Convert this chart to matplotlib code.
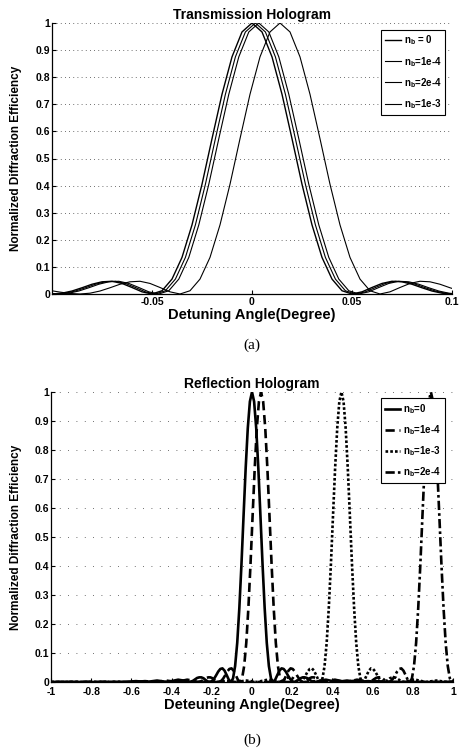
import numpy as np
import matplotlib
matplotlib.use("Agg")
import matplotlib.pyplot as plt

plt.rcParams['font.family'] = ['Liberation Sans', 'DejaVu Sans']
plt.rcParams['font.weight'] = 'bold'
plt.rcParams['mathtext.fontset'] = 'custom'
plt.rcParams['mathtext.bf'] = 'Liberation Sans:bold'
plt.rcParams['mathtext.rm'] = 'Liberation Sans:bold'
plt.rcParams['mathtext.default'] = 'bf'

# normalised efficiency profile, one side of the peak,
# u = detuning from the peak in units of the first-null detuning
u_side = [0.0, 0.1, 0.2, 0.3, 0.4, 0.5, 0.6, 0.7, 0.8, 0.9, 1.0,
          1.1, 1.2, 1.3, 1.4, 1.5, 1.6, 1.7, 1.8, 1.9, 2.0,
          2.1, 2.2, 2.3, 2.4, 2.5, 2.6, 2.7, 2.8, 2.9, 3.0,
          3.25, 3.5, 3.75, 4.0, 4.5, 5.0, 5.5, 6.0, 20.0]
eta_side = [1.0, 0.967, 0.875, 0.737, 0.573, 0.405, 0.255, 0.135, 0.055, 0.012, 0.0,
            0.008, 0.024, 0.039, 0.047, 0.045, 0.036, 0.023, 0.011, 0.003, 0.0,
            0.002, 0.007, 0.013, 0.016, 0.016, 0.014, 0.009, 0.004, 0.001, 0.0,
            0.005, 0.008, 0.004, 0.0, 0.005, 0.0, 0.003, 0.0, 0.0]

# (a) transmission hologram
trans_labels = ['$n_b$ = 0', '$n_b$=1e-4', '$n_b$=2e-4', '$n_b$=1e-3']
trans_peak = [0.0, 0.0017, 0.0034, 0.014]      # degree
trans_null = 0.05                              # first null, degree
trans_xticks = [-0.05, 0, 0.05, 0.1]
trans_xticklabels = ['-0.05', '0', '0.05', '0.1']

# (b) reflection hologram
refl_labels = ['$n_b$=0', '$n_b$=1e-4', '$n_b$=1e-3', '$n_b$=2e-4']
refl_peak = [0.0, 0.045, 0.445, 0.89]          # degree
refl_null = 0.105
refl_xticks = [-1, -0.8, -0.6, -0.4, -0.2, 0, 0.2, 0.4, 0.6, 0.8, 1]
refl_xticklabels = ['-1', '-0.8', '-0.6', '-0.4', '-0.2', '0', '0.2', '0.4', '0.6', '0.8', '1']

yticks = [0, 0.1, 0.2, 0.3, 0.4, 0.5, 0.6, 0.7, 0.8, 0.9, 1]
yticklabels = ['0', '0.1', '0.2', '0.3', '0.4', '0.5', '0.6', '0.7', '0.8', '0.9', '1']

u_full = np.r_[-np.array(u_side[::-1]), np.array(u_side[1:])]
eta_full = np.r_[np.array(eta_side[::-1]), np.array(eta_side[1:])]


def style_axes(ax, xlim, xticks, xticklabels, title, xlabel, grid_dash, xpad):
    ax.set_xlim(xlim)
    ax.set_ylim(0, 1)
    ax.set_xticks(xticks)
    ax.set_xticklabels(xticklabels)
    ax.set_yticks(yticks)
    ax.set_yticklabels(yticklabels)
    ax.tick_params(direction='in', length=3, width=0.8, labelsize=7.5, pad=1.5)
    ax.tick_params(axis='x', pad=xpad)
    for s in ['top', 'right']:
        ax.spines[s].set_visible(False)
    for s in ['left', 'bottom']:
        ax.spines[s].set_linewidth(0.9)
    for yv in yticks[1:]:
        ax.axhline(yv, color='0.25', lw=0.6, linestyle=grid_dash, zorder=0)
    ax.set_title(title, fontsize=10, fontweight='bold', pad=3)
    ax.set_xlabel(xlabel, fontsize=10.5, fontweight='bold', labelpad=0.5)
    ax.set_ylabel('Normalized Diffraction Efficiency', fontsize=8.5, fontweight='bold')


fig = plt.figure(figsize=(4.64, 7.51), dpi=100)

ax1 = fig.add_axes([52 / 464, 1 - 294 / 751, 400 / 464, 271 / 751])
trans_widths = [1.0, 0.8, 0.8, 0.8]
for lab, pk, lw in zip(trans_labels, trans_peak, trans_widths):
    ax1.plot(pk + u_full * trans_null, eta_full, color='black', linestyle='-', lw=lw,
             label=lab)
style_axes(ax1, (-0.1, 0.1), trans_xticks, trans_xticklabels, 'Transmission Hologram',
           'Detuning Angle(Degree)', (0, (1, 4)), 2.5)
ax1.yaxis.set_label_coords(-0.075, 0.5)
leg1 = ax1.legend(loc='upper right', bbox_to_anchor=(0.983, 0.975), borderaxespad=0,
                  fontsize=7, handlelength=1.6, handletextpad=0.3, labelspacing=0.75,
                  fancybox=False, framealpha=1, edgecolor='black', borderpad=0.4)
leg1.get_frame().set_linewidth(0.8)

ax2 = fig.add_axes([51 / 464, 1 - 682 / 751, 402 / 464, 290 / 751])
refl_styles = ['-', (0, (3.5, 1.8)), (0, (1, 0.8)), (0, (3.5, 1.2, 1, 1.2))]
for lab, pk, ls in zip(refl_labels, refl_peak, refl_styles):
    ax2.plot(pk + u_full * refl_null, eta_full, color='black', linestyle=ls, lw=1.9,
             label=lab)
style_axes(ax2, (-1, 1), refl_xticks, refl_xticklabels, 'Reflection Hologram',
           'Deteuning Angle(Degree)', (0, (1, 9)), 3.5)
ax2.yaxis.set_label_coords(-0.072, 0.5)
leg2 = ax2.legend(loc='upper right', bbox_to_anchor=(0.98, 0.979), borderaxespad=0,
                  fontsize=7, handlelength=1.6, handletextpad=0.3, labelspacing=0.75,
                  fancybox=False, framealpha=1, edgecolor='black', borderpad=0.4)
leg2.get_frame().set_linewidth(0.8)

fig.text(252 / 464, 1 - 345 / 751, '(a)', ha='center', va='center',
         fontsize=11, family='Liberation Serif', fontweight='normal')
fig.text(252 / 464, 1 - 740 / 751, '(b)', ha='center', va='center',
         fontsize=11, family='Liberation Serif', fontweight='normal')

fig.savefig('out.png', dpi=100)
